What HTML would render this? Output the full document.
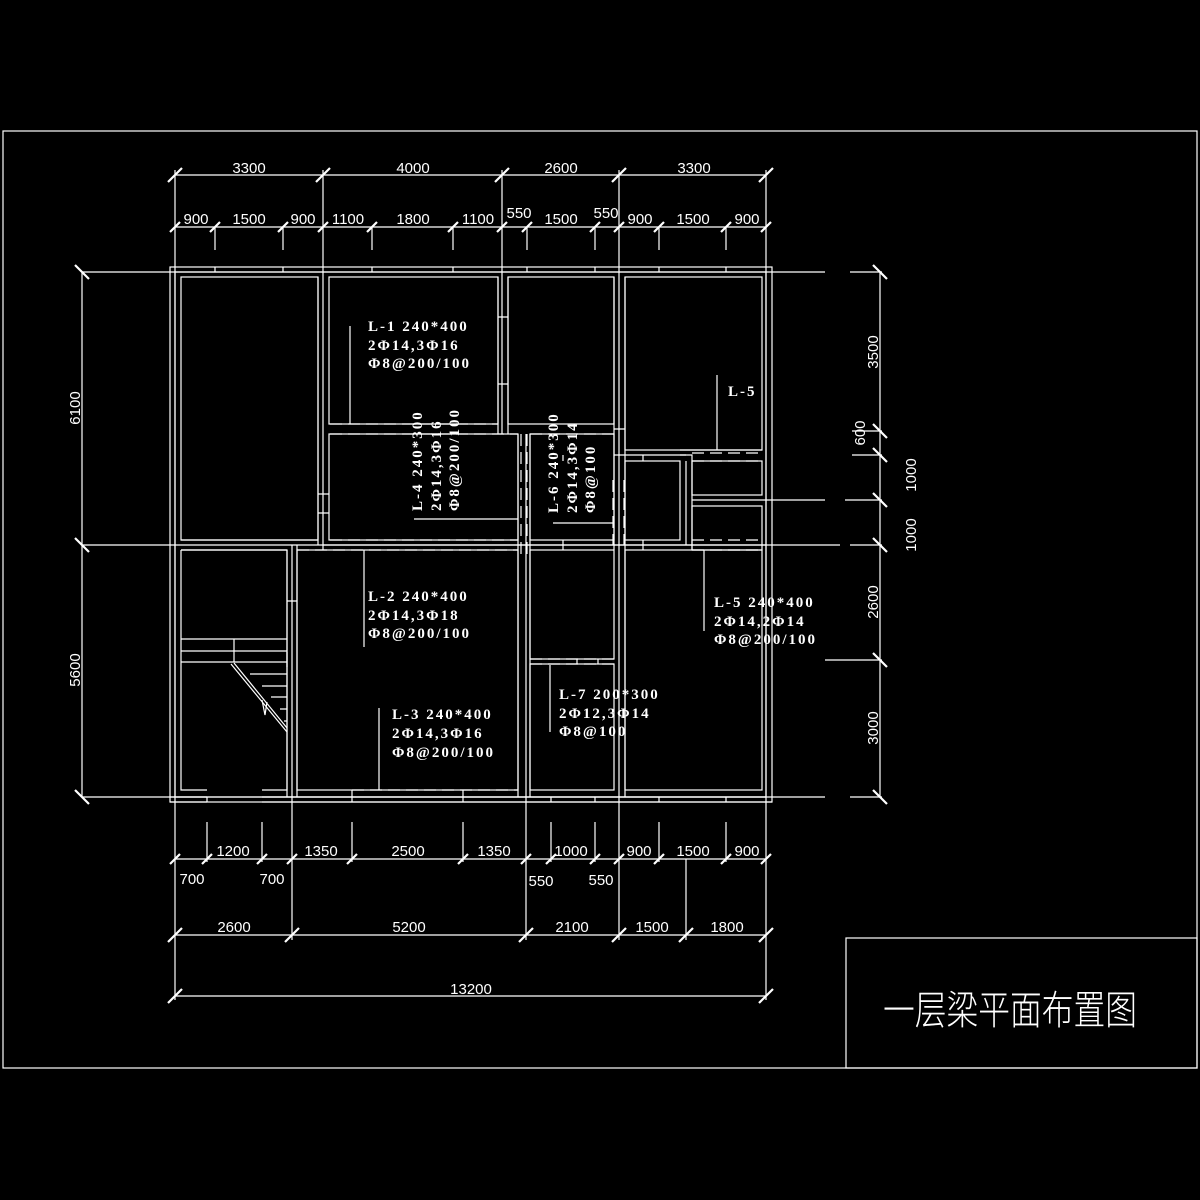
<!DOCTYPE html>
<html><head><meta charset="utf-8"><style>
html,body{margin:0;padding:0;background:#000;}
svg{display:block}
.d{font-family:"Liberation Sans",sans-serif;font-size:15px;fill:#fff;}
.b{font-family:"Liberation Serif",serif;font-size:15px;fill:#fff;font-weight:bold;letter-spacing:2px;}
</style></head><body>
<svg width="1200" height="1200" viewBox="0 0 1200 1200" xmlns="http://www.w3.org/2000/svg">
<rect width="1200" height="1200" fill="#000"/>
<g stroke="#fff" stroke-width="1.2" fill="none">
<rect x="3" y="131" width="1194" height="937"/>
<rect x="846" y="938" width="351" height="130"/>
<rect x="170" y="267" width="602" height="535"/>
<rect x="175" y="272" width="591" height="525"/>
<rect x="181" y="277" width="137" height="263"/>
<rect x="329" y="277" width="169" height="147"/>
<rect x="508" y="277" width="106" height="147"/>
<rect x="625" y="277" width="137" height="173"/>
<rect x="329" y="434" width="189" height="106"/>
<rect x="530" y="434" width="84" height="106"/>
<rect x="625" y="461" width="55" height="79"/>
<rect x="692" y="461" width="70" height="34"/>
<rect x="692" y="506" width="70" height="44"/>
<rect x="530" y="550" width="84" height="109"/>
<rect x="530" y="664" width="84" height="126"/>
<rect x="625" y="550" width="137" height="240"/>
<rect x="297" y="550" width="221" height="240"/>
<path d="M181 550H287V790H262M207 790H181V550"/>
<path d="M318 277V545M323 272V550M498 277V434M502 272V434M508 277V434"/>
<path d="M614 277V550M619 272V797M625 277V797"/>
<path d="M518 434V797M526 434V797M530 434V797"/>
<path d="M287 550V797M292 545V797M297 545V797"/>
<path d="M181 540H318M181 550H287M323 545H766M680 450H762M680 455H692V550M686 461V545M614 545H625"/>
<path d="M692 500H766M614 429H625M614 455H686"/>
<path d="M170 802H207M262 802H772M170 797H207M262 797H766"/>
<path d="M498 317H508M498 384H508M318 494H329M318 513H329M287 601H297M287 667V652"/>
<path d="M215 267V272M283 267V272M372 267V272M453 267V272M527 267V272M595 267V272M659 267V272M726 267V272"/>
<path d="M207 797V802M352 790V802M463 790V802M551 797V802M595 797V802M659 797V802M726 797V802"/>
<path d="M563 540V550M643 540V550M563 455V461M643 455V461M577 659V664M598 659V664"/>
<path d="M181 639H287M181 651H287M181 662H287M234 639V662"/>
<path d="M250 674H287M262 686H287M271 697H287M280 709H287M284 721H287"/>
<path d="M231 664L287 732M234 663L287 728"/>
<path d="M262 700L265 715L267 702"/>
<g stroke-dasharray="12,6">
<path d="M330 424H498M330 434H518M330 540H518M530 434H614"/>
<path d="M521 434V560M527 434V560M613 480V545M624 480V545"/>
<path d="M692 453H762M692 461H762M692 540H762M692 550H762"/>
<path d="M352 790H518M530 659H614M530 664H614M297 550H518"/>
</g>
<path d="M350 326V424M414 519H518M553 523H613M717 375V450M364 550V647M379 708V790M704 550V631M550 665V732"/>
<path d="M175 170V1000M323 170V272M502 170V272M619 170V272M766 170V1000"/>
<path d="M215 228V250M283 228V250M372 228V250M453 228V250M527 228V250M595 228V250M659 228V250M726 228V250"/>
<path d="M292 797V940M526 797V940M619 797V940M686 859V940"/>
<path d="M207 822V862M262 822V862M352 822V862M463 822V862M551 822V862M595 822V862M659 822V862M726 822V862"/>
<path d="M82 272H825M850 272H882M82 545H840M850 545H882M82 797H825M850 797H882"/>
<path d="M852 431H882M852 455H882M766 500H825M845 500H882M825 660H882"/>
<path d="M175 175H766M175 227H766M175 859H766M175 935H766M175 996H766"/>
<path d="M82 272V797M880 272V797"/>
</g>
<g stroke="#fff" stroke-width="2.2">
<path d="M168 182l14-14M316 182l14-14M495 182l14-14M612 182l14-14M759 182l14-14"/>
<path d="M170 232l10-10M210 232l10-10M278 232l10-10M318 232l10-10M367 232l10-10M448 232l10-10M497 232l10-10M522 232l10-10M590 232l10-10M614 232l10-10M654 232l10-10M721 232l10-10M761 232l10-10"/>
<path d="M170 864l10-10M202 864l10-10M257 864l10-10M287 864l10-10M347 864l10-10M458 864l10-10M521 864l10-10M546 864l10-10M590 864l10-10M614 864l10-10M654 864l10-10M721 864l10-10M761 864l10-10"/>
<path d="M168 942l14-14M285 942l14-14M519 942l14-14M612 942l14-14M679 942l14-14M759 942l14-14"/>
<path d="M168 1003l14-14M759 1003l14-14"/>
<path d="M75 265l14 14M75 538l14 14M75 790l14 14"/>
<path d="M873 265l14 14M873 424l14 14M873 448l14 14M873 493l14 14M873 538l14 14M873 653l14 14M873 790l14 14"/>
</g>
<g class="d" text-anchor="middle">
<text x="249" y="173">3300</text><text x="413" y="173">4000</text><text x="561" y="173">2600</text><text x="694" y="173">3300</text>
<text x="196" y="224">900</text><text x="249" y="224">1500</text><text x="303" y="224">900</text><text x="348" y="224">1100</text><text x="413" y="224">1800</text><text x="478" y="224">1100</text><text x="519" y="218">550</text><text x="561" y="224">1500</text><text x="606" y="218">550</text><text x="640" y="224">900</text><text x="693" y="224">1500</text><text x="747" y="224">900</text>
<text x="233" y="856">1200</text><text x="321" y="856">1350</text><text x="408" y="856">2500</text><text x="494" y="856">1350</text><text x="571" y="856">1000</text><text x="639" y="856">900</text><text x="693" y="856">1500</text><text x="747" y="856">900</text>
<text x="192" y="884">700</text><text x="272" y="884">700</text><text x="541" y="886">550</text><text x="601" y="885">550</text>
<text x="234" y="932">2600</text><text x="409" y="932">5200</text><text x="572" y="932">2100</text><text x="652" y="932">1500</text><text x="727" y="932">1800</text>
<text x="471" y="994">13200</text>
<text transform="translate(80,408) rotate(-90)">6100</text>
<text transform="translate(80,670) rotate(-90)">5600</text>
<text transform="translate(878,352) rotate(-90)">3500</text>
<text transform="translate(865,433) rotate(-90)">600</text>
<text transform="translate(916,475) rotate(-90)">1000</text>
<text transform="translate(916,535) rotate(-90)">1000</text>
<text transform="translate(878,602) rotate(-90)">2600</text>
<text transform="translate(878,728) rotate(-90)">3000</text>
</g>
<g class="b">
<text x="368" y="331">L-1 240*400</text><text x="368" y="350">2Φ14,3Φ16</text><text x="368" y="368">Φ8@200/100</text>
<text x="368" y="601">L-2 240*400</text><text x="368" y="620">2Φ14,3Φ18</text><text x="368" y="638">Φ8@200/100</text>
<text x="392" y="719">L-3 240*400</text><text x="392" y="738">2Φ14,3Φ16</text><text x="392" y="757">Φ8@200/100</text>
<text x="714" y="607">L-5 240*400</text><text x="714" y="626">2Φ14,2Φ14</text><text x="714" y="644">Φ8@200/100</text>
<text x="559" y="699">L-7 200*300</text><text x="559" y="718">2Φ12,3Φ14</text><text x="559" y="736">Φ8@100</text>
<text x="728" y="396">L-5</text>
<text transform="translate(422,511) rotate(-90)">L-4 240*300</text>
<text transform="translate(441,511) rotate(-90)">2Φ14,3Φ16</text>
<text transform="translate(459,511) rotate(-90)">Φ8@200/100</text>
<text transform="translate(558,513) rotate(-90)">L-6 240*300</text>
<text transform="translate(577,513) rotate(-90)">2Φ14,3Φ14</text>
<text transform="translate(595,513) rotate(-90)">Φ8@100</text>
</g>
<text x="883" y="1024" textLength="254" lengthAdjust="spacingAndGlyphs" style="font-family:'Liberation Sans','Noto Sans CJK SC',sans-serif;font-size:40px;font-weight:300;fill:#fff">一层梁平面布置图</text>
</svg>
</body></html>
